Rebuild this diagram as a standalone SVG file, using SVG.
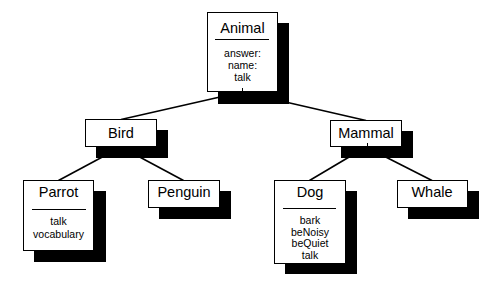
<svg xmlns="http://www.w3.org/2000/svg" width="502" height="296" viewBox="0 0 502 296">
  <style>
    .edge { stroke: #000; stroke-width: 1.6; fill: none; }
    .shadow { fill: #000; }
    .box { fill: #fff; stroke: #000; stroke-width: 1; }
    .rule { stroke: #000; stroke-width: 1; }
    .stub { stroke: #000; stroke-width: 1; }
    .title { font-family: "Liberation Sans", Arial, sans-serif; font-size: 14.5px; text-anchor: middle; fill: #000; }
    .member { font-family: "Liberation Sans", Arial, sans-serif; font-size: 10.5px; text-anchor: middle; fill: #000; }
  </style>
  <rect width="502" height="296" fill="#fff"/>

  <!-- inheritance links: parent bottom centre to child top centre -->
  <g id="connectors">
    <line class="edge" x1="242" y1="92" x2="121" y2="119.5"/>
    <line class="edge" x1="242" y1="92" x2="366" y2="120.5"/>
    <line class="edge" x1="121" y1="147" x2="58.5" y2="180.5"/>
    <line class="edge" x1="121" y1="147" x2="183.5" y2="180.5"/>
    <line class="edge" x1="366" y1="147" x2="309.5" y2="180.5"/>
    <line class="edge" x1="366" y1="147" x2="432" y2="180.5"/>
  </g>

  <g id="animal">
    <rect class="shadow" x="218" y="23" width="71" height="81"/>
    <rect class="box" x="207.5" y="12.5" width="70" height="79"/>
    <text class="title" x="242.5" y="33">Animal</text>
    <line class="rule" x1="215" y1="39.5" x2="269" y2="39.5"/>
    <text class="member" x="242.5" y="57">answer:</text>
    <text class="member" x="242.5" y="69">name:</text>
    <text class="member" x="242.5" y="81">talk</text>
    <line class="stub" x1="242.5" y1="88" x2="242.5" y2="91"/>
  </g>

  <g id="bird">
    <rect class="shadow" x="96" y="130" width="72" height="28"/>
    <rect class="box" x="85.5" y="119.5" width="71" height="27"/>
    <text class="title" x="121" y="138">Bird</text>
  </g>

  <g id="mammal">
    <rect class="shadow" x="341" y="131" width="72" height="27"/>
    <rect class="box" x="330.5" y="120.5" width="71" height="26"/>
    <text class="title" x="366" y="138">Mammal</text>
    <line class="stub" x1="367.5" y1="143" x2="367.5" y2="146"/>
  </g>

  <g id="parrot">
    <rect class="shadow" x="34" y="191" width="72" height="71"/>
    <rect class="box" x="23.5" y="180.5" width="70" height="70"/>
    <text class="title" x="58.5" y="197">Parrot</text>
    <line class="rule" x1="32" y1="209.5" x2="86" y2="209.5"/>
    <text class="member" x="58.5" y="225">talk</text>
    <text class="member" x="58.5" y="238">vocabulary</text>
  </g>

  <g id="penguin">
    <rect class="shadow" x="159" y="191" width="72" height="28"/>
    <rect class="box" x="148.5" y="180.5" width="71" height="27"/>
    <text class="title" x="184" y="197">Penguin</text>
  </g>

  <g id="dog">
    <rect class="shadow" x="285" y="191" width="72" height="83"/>
    <rect class="box" x="274.5" y="180.5" width="71" height="83"/>
    <text class="title" x="310" y="197">Dog</text>
    <line class="rule" x1="283" y1="208.5" x2="336" y2="208.5"/>
    <text class="member" x="310" y="224">bark</text>
    <text class="member" x="310" y="236">beNoisy</text>
    <text class="member" x="310" y="247">beQuiet</text>
    <text class="member" x="310" y="259">talk</text>
  </g>

  <g id="whale">
    <rect class="shadow" x="408" y="191" width="71" height="28"/>
    <rect class="box" x="397.5" y="180.5" width="70" height="27"/>
    <text class="title" x="432" y="197">Whale</text>
  </g>
</svg>
